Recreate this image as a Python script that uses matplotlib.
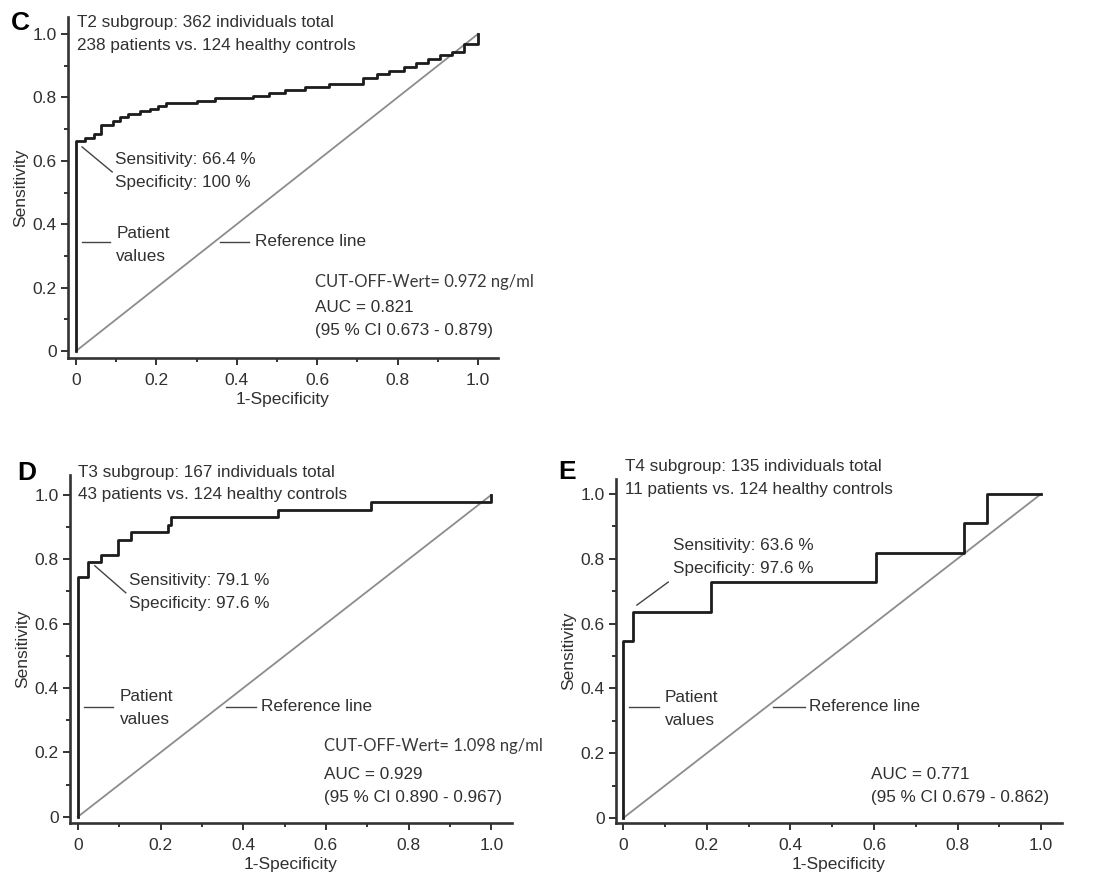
import matplotlib
matplotlib.use('Agg')
from matplotlib import pyplot as plt
from matplotlib.ticker import MultipleLocator
from matplotlib.transforms import offset_copy

plt.rcParams['font.family'] = ['Liberation Sans', 'DejaVu Sans']

TEXT = '#303030'
AXIS = '#333333'

# shared axis ticks
ticks = [0, 0.2, 0.4, 0.6, 0.8, 1.0]
tick_labels = ['0', '0.2', '0.4', '0.6', '0.8', '1.0']

# panel C: T2 subgroup
t2_fpr = [0, 0, 0.022, 0.045, 0.062, 0.092, 0.11, 0.13, 0.158, 0.184, 0.205,
          0.225, 0.30, 0.345, 0.44, 0.48, 0.52, 0.57, 0.63, 0.715, 0.75,
          0.78, 0.815, 0.845, 0.875, 0.905, 0.935, 0.965, 1.0]
t2_tpr = [0, 0.664, 0.672, 0.685, 0.714, 0.727, 0.737, 0.748, 0.758, 0.765,
          0.773, 0.782, 0.790, 0.797, 0.804, 0.813, 0.823, 0.834, 0.844,
          0.862, 0.874, 0.884, 0.895, 0.908, 0.922, 0.935, 0.945, 0.970, 1.0]
t2_header = ['T2 subgroup: 362 individuals total',
             '238 patients vs. 124 healthy controls']
t2_point = ['Sensitivity: 66.4 %', 'Specificity: 100 %']
t2_cutoff = 'CUT-OFF-Wert= 0.972 ng/ml'
t2_auc = ['AUC = 0.821', '(95 % CI 0.673 - 0.879)']

# panel D: T3 subgroup
t3_fpr = [0, 0, 0.024, 0.056, 0.097, 0.129, 0.218, 0.226, 0.484, 0.71, 1.0]
t3_tpr = [0, 0.744, 0.791, 0.814, 0.860, 0.884, 0.907, 0.930, 0.953, 0.977, 1.0]
t3_header = ['T3 subgroup: 167 individuals total',
             '43 patients vs. 124 healthy controls']
t3_point = ['Sensitivity: 79.1 %', 'Specificity: 97.6 %']
t3_cutoff = 'CUT-OFF-Wert= 1.098 ng/ml'
t3_auc = ['AUC = 0.929', '(95 % CI 0.890 - 0.967)']

# panel E: T4 subgroup
t4_fpr = [0, 0, 0.024, 0.21, 0.605, 0.815, 0.871, 1.0]
t4_tpr = [0, 0.545, 0.636, 0.727, 0.818, 0.909, 1.0, 1.0]
t4_header = ['T4 subgroup: 135 individuals total',
             '11 patients vs. 124 healthy controls']
t4_point = ['Sensitivity: 63.6 %', 'Specificity: 97.6 %']
t4_auc = ['AUC = 0.771', '(95 % CI 0.679 - 0.862)']


def _lines(ax, x, y, strings, **kw):
    """Stack lines of text downwards with a fixed pixel spacing"""
    for i, s in enumerate(strings):
        tr = offset_copy(ax.transData, fig=ax.figure, y=-16.5 * i, units='points')
        ax.text(x, y, s, transform=tr, ha='left', va='center', color=TEXT,
                fontsize=12.3, **kw)


def _leader(ax, x0, y0, x1, y1):
    ax.plot([x0, x1], [y0, y1], color='#444444', lw=1.0, clip_on=False)


def _rocpanel(ax, fpr, tpr, xlim, ylim):
    ax.plot([0, 1], [0, 1], color='#8c8c8c', lw=1.3, clip_on=False)
    ax.plot(fpr, tpr, drawstyle='steps-post', color='#1c1c1c', lw=2.0,
            clip_on=False)
    ax.set_xlim(xlim)
    ax.set_ylim(ylim)
    ax.spines[['top', 'right']].set_visible(False)
    for side in ['left', 'bottom']:
        ax.spines[side].set_linewidth(1.9)
        ax.spines[side].set_color(AXIS)
    ax.set_xticks(ticks, tick_labels)
    ax.set_yticks(ticks, tick_labels)
    ax.xaxis.set_minor_locator(MultipleLocator(0.1))
    ax.yaxis.set_minor_locator(MultipleLocator(0.1))
    ax.tick_params(which='major', length=5, width=1.4, color=AXIS,
                   labelsize=12.5, labelcolor=TEXT)
    ax.tick_params(axis='x', which='major', pad=6)
    ax.tick_params(axis='y', which='major', pad=3)
    ax.tick_params(which='minor', length=3, width=1.4, color=AXIS)
    ax.set_xlabel('1-Specificity', fontsize=12.5, color=TEXT, labelpad=3)
    ax.set_ylabel('Sensitivity', fontsize=12.5, color=TEXT, labelpad=3)


fig = plt.figure(figsize=(10.93, 8.74), dpi=100)

# C
axc = fig.add_axes([0.0622, 0.5904, 0.3934, 0.3902])
_rocpanel(axc, t2_fpr, t2_tpr, (-0.02, 1.05), (-0.022, 1.054))
_lines(axc, 0.003, 1.035, t2_header)
_lines(axc, 0.097, 0.603, t2_point)
_leader(axc, 0.015, 0.644, 0.09, 0.565)
_lines(axc, 0.10, 0.372, ['Patient', 'values'])
_leader(axc, 0.015, 0.344, 0.085, 0.344)
_lines(axc, 0.445, 0.344, ['Reference line'])
_leader(axc, 0.358, 0.344, 0.43, 0.344)
axc.text(0.595, 0.218, t2_cutoff, family='Lato', fontsize=12,
         color='#3a3a3a', ha='left', va='center')
_lines(axc, 0.595, 0.136, t2_auc)

# D
axd = fig.add_axes([0.0640, 0.0584, 0.4044, 0.3982])
_rocpanel(axd, t3_fpr, t3_tpr, (-0.019, 1.05), (-0.019, 1.062))
_lines(axd, 0.0, 1.071, t3_header)
_lines(axd, 0.123, 0.733, t3_point)
_leader(axd, 0.041, 0.78, 0.116, 0.696)
_lines(axd, 0.102, 0.373, ['Patient', 'values'])
_leader(axd, 0.015, 0.342, 0.085, 0.342)
_lines(axd, 0.443, 0.342, ['Reference line'])
_leader(axd, 0.358, 0.342, 0.431, 0.342)
axd.text(0.596, 0.22, t3_cutoff, family='Lato', fontsize=12,
         color='#3a3a3a', ha='left', va='center')
_lines(axd, 0.596, 0.130, t3_auc)

# E
axe = fig.add_axes([0.5636, 0.0584, 0.4081, 0.3936])
_rocpanel(axe, t4_fpr, t4_tpr, (-0.017, 1.05), (-0.015, 1.046))
_lines(axe, 0.005, 1.083, t4_header)
_lines(axe, 0.12, 0.84, t4_point)
_leader(axe, 0.033, 0.657, 0.108, 0.728)
_lines(axe, 0.10, 0.373, ['Patient', 'values'])
_leader(axe, 0.014, 0.343, 0.086, 0.343)
_lines(axe, 0.445, 0.343, ['Reference line'])
_leader(axe, 0.359, 0.343, 0.435, 0.343)
_lines(axe, 0.593, 0.133, t4_auc)

# panel letters
for letter, x, y in [('C', 0.0183, 0.9737), ('D', 0.0247, 0.4588), ('E', 0.5188, 0.4600)]:
    fig.text(x, y, letter, fontsize=19, fontweight='bold', color='black',
             ha='center', va='center')

fig.savefig('out.png', dpi=100)
